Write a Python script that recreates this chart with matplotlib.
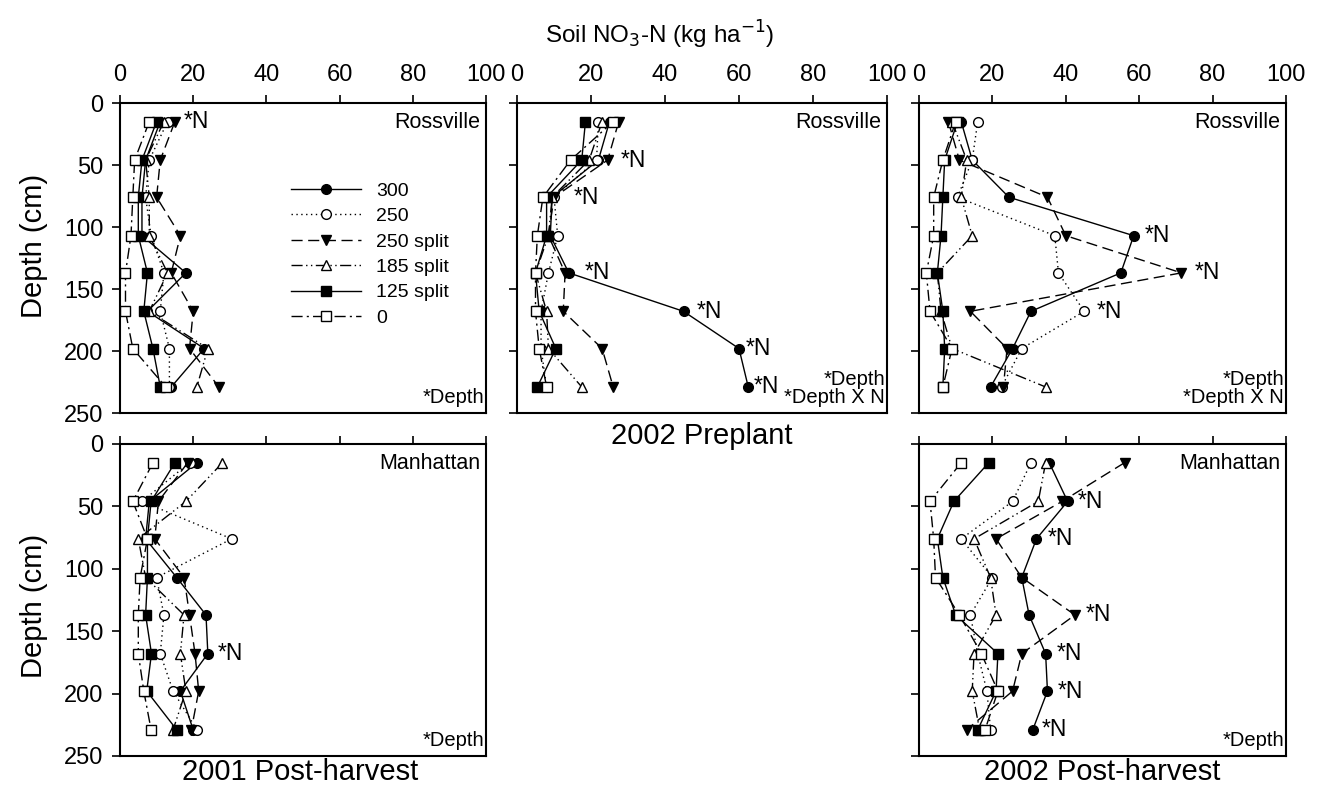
import matplotlib
matplotlib.use("Agg")
import matplotlib.pyplot as plt

plt.rcParams['font.family'] = ['Liberation Sans', 'DejaVu Sans']

# depth of each sampling layer (cm)
depths = [15, 46, 76, 107, 137, 168, 198, 229]

rates = ["300", "250", "250 split", "185 split", "125 split", "0"]

# 2001 post-harvest, Rossville
ross_2001 = {
    "300":       [11, 7, 6, 6, 18, 7.5, 23, 14],
    "250":       [13, 8, 7, 8.5, 12, 11, 13.5, 13.5],
    "250 split": [15, 11, 10, 16.5, 14, 20, 19, 27],
    "185 split": [12, 7, 8, 8, 13, 8, 24, 21],
    "125 split": [10, 6, 5, 5, 7.5, 6.5, 9, 11],
    "0":         [8, 4, 3.5, 3, 1.5, 1.5, 3.5, 12.5],
}
# 2002 preplant, Rossville
ross_2002_pre = {
    "300":       [25, 22, 9.5, 9, 14, 45, 60, 62.5],
    "250":       [22, 21.5, 10, 11, 8.5, 6.5, 6.5, 8],
    "250 split": [27.5, 24.5, 10, 8.5, 13, 12.5, 23, 26],
    "185 split": [23, 19.5, 9.5, 8.5, 5, 8, 8.5, 17.5],
    "125 split": [18.5, 17.5, 8, 8, 5, 6, 10.5, 5.5],
    "0":         [26, 14.5, 7, 5.5, 5, 5, 6, 8],
}
# 2002 post-harvest, Rossville
ross_2002_post = {
    "300":       [11.5, 14.5, 24.5, 58.5, 55, 30.5, 25.5, 19.5],
    "250":       [16, 14.5, 10.5, 37, 38, 45, 28, 22.5],
    "250 split": [8, 11, 35, 40, 71.5, 14, 24, 23],
    "185 split": [9, 13, 11.5, 14.5, 5, 6, 9, 34.5],
    "125 split": [10.5, 7, 6.5, 6, 5, 6.5, 7, 6.5],
    "0":         [10, 6.5, 4, 4, 2, 3, 9, 6.5],
}
# 2001 post-harvest, Manhattan
man_2001 = {
    "300":       [21, 8, 7, 15.5, 23.5, 24, 16.5, 20],
    "250":       [19, 6, 30.5, 10, 12, 11, 14.5, 21],
    "250 split": [18.5, 10.5, 9.5, 17.5, 19, 20.5, 21.5, 19.5],
    "185 split": [28, 18, 5, 7, 17.5, 16.5, 18, 14.5],
    "125 split": [15, 8.5, 7.5, 7.5, 7, 8.6, 7.3, 15.5],
    "0":         [9, 3.5, 7.5, 5.5, 5, 5, 6.5, 8.5],
}
# 2002 post-harvest, Manhattan
man_2002 = {
    "300":       [35.5, 40.5, 32, 28, 30, 34.5, 35, 31],
    "250":       [30.5, 25.5, 11.5, 20, 14, 16, 18.5, 19.5],
    "250 split": [56, 39, 21, 28, 42.5, 28, 25.5, 13],
    "185 split": [34.5, 32.5, 15, 19.5, 21, 15, 14.5, 16.5],
    "125 split": [19, 9.5, 5, 6.5, 10, 21.5, 21, 16],
    "0":         [11.5, 3, 4, 4.5, 11, 17, 21.5, 18],
}

# significance labels (*N) beside the layers
ross_2001_sig = [(17.5, 15)]
ross_2002_pre_sig = [(28, 46), (15.3, 76), (18.2, 137), (48.6, 168), (61.7, 198), (64, 229)]
ross_2002_post_sig = [(61.5, 107), (75.2, 137), (48.4, 168)]
man_2001_sig = [(26.6, 168)]
man_2002_sig = [(43.2, 46), (35, 76), (45.5, 137), (37.5, 168), (37.7, 198), (33.4, 229)]

styles = {
    "300":       dict(ls="-", marker="o", mfc="black"),
    "250":       dict(ls=(0, (1, 2.5)), marker="o", mfc="white"),
    "250 split": dict(ls=(0, (8, 4)), marker="v", mfc="black"),
    "185 split": dict(ls=(0, (8, 2.5, 1, 2.5, 1, 2.5)), marker="^", mfc="white"),
    "125 split": dict(ls="-", marker="s", mfc="black"),
    "0":         dict(ls=(0, (8, 3, 1.5, 3)), marker="s", mfc="white"),
}

W, H = 1319, 788
fig = plt.figure(figsize=(W / 100, H / 100), dpi=100)


def box(x0, y0, x1, y1):
    return [x0 / W, 1 - y1 / H, (x1 - x0) / W, (y1 - y0) / H]


def panel(rect, data, site, sig, stats, xlabels=False, ylabel_y=None):
    ax = fig.add_axes(rect)
    for r in rates:
        st = styles[r]
        ax.plot(data[r], depths, ls=st["ls"], marker=st["marker"], mfc=st["mfc"],
                mec="black", color="black", lw=1.0, ms=7, mew=1.0, label=r)
    ax.set_xlim(0, 100)
    ax.set_ylim(250, 0)
    ax.set_xticks([0, 20, 40, 60, 80, 100])
    ax.set_yticks([0, 50, 100, 150, 200, 250])
    ax.xaxis.tick_top()
    ax.tick_params(direction="out", length=6, width=1.2, labelsize=17, pad=6,
                   labeltop=xlabels, labelleft=ylabel_y is not None)
    for s in ax.spines.values():
        s.set_linewidth(1.5)
    ax.text(0.985, 0.97, site, transform=ax.transAxes, ha="right", va="top", fontsize=15.5)
    ax.text(0.995, 0.02, stats, transform=ax.transAxes, ha="right", va="bottom",
            fontsize=14.5, linespacing=0.9)
    for x, d in sig:
        ax.text(x, d, "*N", ha="left", va="center", fontsize=16.5)
    if ylabel_y is not None:
        ax.set_ylabel("Depth (cm)", fontsize=21)
        ax.yaxis.set_label_coords(-0.197, ylabel_y)
    return ax


ax1 = panel(box(120, 103, 486, 413), ross_2001, "Rossville", ross_2001_sig, "*Depth",
            xlabels=True, ylabel_y=0.54)
ax2 = panel(box(517, 103, 887, 413), ross_2002_pre, "Rossville", ross_2002_pre_sig,
            "*Depth\n*Depth X N", xlabels=True)
ax3 = panel(box(919, 103, 1286, 413), ross_2002_post, "Rossville", ross_2002_post_sig,
            "*Depth\n*Depth X N", xlabels=True)
ax4 = panel(box(120, 444, 486, 756), man_2001, "Manhattan", man_2001_sig, "*Depth",
            ylabel_y=0.48)
ax5 = panel(box(919, 444, 1286, 756), man_2002, "Manhattan", man_2002_sig, "*Depth")

ax1.legend(loc="upper left", bbox_to_anchor=(0.44, 0.776), frameon=False, fontsize=14,
           handlelength=3.6, handletextpad=0.8, labelspacing=0.4, borderpad=0)

fig.text(660 / W, 1 - 35 / H, "Soil NO$_3$-N (kg ha$^{-1}$)", ha="center", va="center",
         fontsize=17.5)
fig.text(702 / W, 1 - 436 / H, "2002 Preplant", ha="center", va="center", fontsize=21)
fig.text(300 / W, 1 - 772 / H, "2001 Post-harvest", ha="center", va="center", fontsize=21)
fig.text(1102 / W, 1 - 772 / H, "2002 Post-harvest", ha="center", va="center", fontsize=21)

fig.savefig("out.png", dpi=100)
